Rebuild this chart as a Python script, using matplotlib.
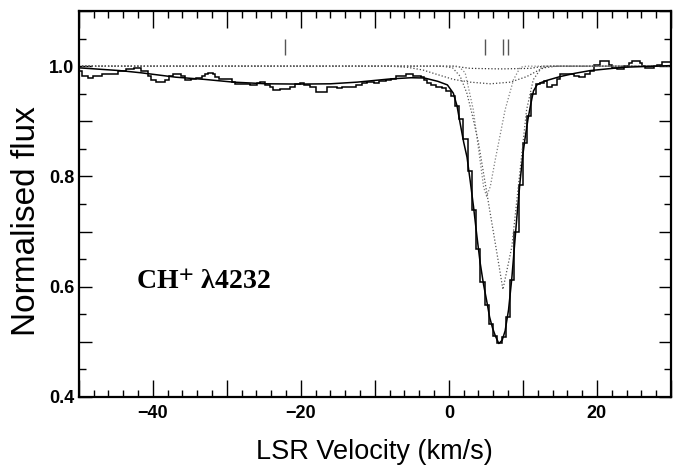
import matplotlib

matplotlib.use("Agg")
import matplotlib.pyplot as plt
from matplotlib.ticker import FuncFormatter, MultipleLocator

# observed spectrum: left edge of each step (km/s) and its normalised flux
step_left = [
    -50.0, -49.5, -48.8, -48.1, -46.8, -44.7, -43.6, -42.5, -41.6, -40.7,
    -40.2, -39.6, -38.4, -37.8, -37.3, -36.2, -35.7, -34.8, -34.1, -33.3,
    -32.9, -32.5, -31.8, -31.6, -31.1, -29.3, -28.9, -26.9, -25.9, -25.5,
    -24.8, -24.1, -23.7, -22.8, -21.4, -20.8, -20.1, -19.6, -18.7, -18.0,
    -17.4, -16.4, -15.05, -14.4, -13.5, -12.6, -11.7, -11.0, -10.1, -9.4,
    -8.5, -7.8, -7.2, -6.7, -5.8, -4.9, -3.8, -3.3, -2.9, -2.4,
    -1.8, -0.9, -0.35, 0.22, 0.80, 1.37, 1.95, 2.52, 3.10, 3.67,
    4.25, 4.82, 5.40, 5.97, 6.55, 7.12, 7.70, 8.27, 8.85, 9.42,
    10.0, 10.57, 11.15, 11.72, 12.3, 12.8, 13.24, 13.92, 14.59, 15.04,
    15.72, 16.84, 17.51, 18.42, 19.09, 19.54, 20.45, 21.57, 22.03, 22.70,
    23.60, 24.27, 24.73, 25.85, 26.08, 26.53, 27.65, 28.11, 28.78,
]
step_flux = [
    0.991, 0.982, 0.979, 0.982, 0.986, 0.991, 0.995, 0.997, 0.991, 0.983,
    0.974, 0.972, 0.975, 0.982, 0.986, 0.982, 0.974, 0.976, 0.978, 0.982,
    0.986, 0.988, 0.985, 0.980, 0.976, 0.971, 0.968, 0.966, 0.970, 0.971,
    0.966, 0.962, 0.957, 0.959, 0.962, 0.968, 0.970, 0.965, 0.962, 0.954,
    0.953, 0.963, 0.960, 0.962, 0.963, 0.966, 0.970, 0.971, 0.970, 0.973,
    0.974, 0.977, 0.982, 0.983, 0.985, 0.983, 0.980, 0.974, 0.970, 0.966,
    0.962, 0.960, 0.955, 0.945, 0.928, 0.905, 0.867, 0.809, 0.740, 0.668,
    0.609, 0.566, 0.533, 0.510, 0.498, 0.508, 0.545, 0.612, 0.700, 0.785,
    0.861, 0.910, 0.950, 0.968, 0.970, 0.973, 0.963, 0.966, 0.976, 0.985,
    0.986, 0.983, 0.980, 0.985, 0.991, 1.003, 1.009, 1.003, 0.997, 0.994,
    1.001, 1.006, 1.010, 1.005, 1.001, 0.997, 1.000, 1.003, 1.007,
]
step_end = 30.0

# total fit (solid)
fit_vel = [
    -50, -44.5, -41.6, -36.9, -33.0, -29.1, -24.6, -20.1, -16.0, -12.4,
    -7.8, -5.1, -3.3, -1.5, -0.2, 0.6, 1.1, 1.5, 2.0, 2.45,
    2.9, 3.33, 3.8, 4.23, 4.67, 5.1, 5.5, 5.9, 6.3, 6.75,
    7.2, 7.6, 8.06, 8.5, 8.9, 9.27, 9.64, 10.0, 10.3, 10.7,
    11.0, 11.43, 11.9, 12.4, 13.2, 15.0, 17.0, 19.1, 23.6, 30.0,
]
fit_flux = [
    0.997, 0.992, 0.988, 0.980, 0.976, 0.971, 0.968, 0.9675, 0.968, 0.971,
    0.977, 0.979, 0.9785, 0.9725, 0.966, 0.951, 0.928, 0.898, 0.862, 0.835,
    0.790, 0.745, 0.690, 0.643, 0.605, 0.575, 0.545, 0.525, 0.510, 0.497,
    0.503, 0.520, 0.558, 0.615, 0.680, 0.740, 0.794, 0.840, 0.870, 0.905,
    0.927, 0.955, 0.966, 0.970, 0.974, 0.981, 0.987, 0.992, 0.998, 1.001,
]

# individual components (dotted)
weak_vel = [-50, 0.6, 2.9, 7.0, 11.0, 12.8, 30]
weak_flux = [1.0, 1.0, 0.996, 0.995, 0.996, 1.0, 1.0]
broad_vel = [-50, -8.0, -5.6, -3.5, -1.6, 0.6, 2.9, 5.6, 8.3, 10.5, 11.9, 12.8, 14.6, 30]
broad_flux = [1.0, 1.0, 0.998, 0.993, 0.985, 0.976, 0.971, 0.968, 0.971, 0.981, 0.991, 0.997, 1.0, 1.0]
compa_vel = [-50, 1.3, 2.2, 3.3, 4.2, 4.7, 5.1, 5.6, 6.26, 7.6, 8.73, 9.64, 10.5, 30]
compa_flux = [1.0, 1.0, 0.988, 0.921, 0.830, 0.780, 0.764, 0.782, 0.830, 0.921, 0.9755, 0.998, 1.0, 1.0]
compb_vel = [-50, -1.0, 0.5, 1.53, 2.43, 3.1, 4.0, 5.35, 6.49, 7.3, 8.51, 9.19, 9.86, 10.5, 11.4, 12.5, 13.5, 30]
compb_flux = [1.0, 1.0, 0.997, 0.9815, 0.951, 0.915, 0.861, 0.752, 0.661, 0.595, 0.673, 0.758, 0.842, 0.921, 0.9755, 0.997, 1.0, 1.0]

# component velocities marked along the top
comp_marks = [-22.1, 4.9, 7.3, 8.0]

assert len(step_left) == len(step_flux)

plt.rcParams["font.family"] = ["Liberation Sans", "DejaVu Sans"]
plt.rcParams["mathtext.fontset"] = "stix"

fig = plt.figure(figsize=(6.74, 4.73), dpi=100)
ax = fig.add_axes([0.1168, 0.1607, 0.8787, 0.816])

dot = (0, (1, 1.6))
ax.plot(weak_vel, weak_flux, color="#333333", lw=0.9, ls=dot)
ax.plot(broad_vel, broad_flux, color="#444444", lw=0.9, ls=dot)
ax.plot(compa_vel, compa_flux, color="#808080", lw=0.9, ls=dot)
ax.plot(compb_vel, compb_flux, color="#555555", lw=0.9, ls=dot)

ax.stairs(step_flux, step_left + [step_end], color="black", lw=1.1, baseline=None)
ax.plot(fit_vel, fit_flux, color="black", lw=1.1)

ax.vlines(comp_marks, 1.021, 1.049, color="#555555", lw=1.0)

ax.text(-42.2, 0.607, r"CH$^{\mathbf{+}}$ λ4232", family="Liberation Serif",
        weight="bold", fontsize=20, va="center", ha="left")

ax.set_xlim(-50, 30)
ax.set_ylim(0.4, 1.1)

ax.xaxis.set_major_locator(MultipleLocator(10))
ax.xaxis.set_minor_locator(MultipleLocator(2))
ax.yaxis.set_major_locator(MultipleLocator(0.1))
ax.yaxis.set_minor_locator(MultipleLocator(0.05))
ax.xaxis.set_major_formatter(
    FuncFormatter(lambda v, _: f"{v:.0f}".replace("-", "\u2212") if round(v) % 20 == 0 else "")
)
ax.yaxis.set_major_formatter(
    FuncFormatter(lambda v, _: f"{v:.1f}" if round(v * 10) % 2 == 0 else "")
)
ax.tick_params(which="both", direction="in", top=True, right=True, width=1.0)
ax.tick_params(axis="x", which="major", length=12, pad=6)
ax.tick_params(axis="x", which="minor", length=5)
ax.tick_params(axis="y", which="major", length=9, pad=3)
ax.tick_params(axis="y", which="minor", length=5)
for lab in ax.get_xticklabels() + ax.get_yticklabels():
    lab.set_fontweight("bold")
    lab.set_fontsize(13)
for sp in ax.spines.values():
    sp.set_linewidth(1.6)

ax.set_xlabel("LSR Velocity (km/s)", fontsize=19.5, labelpad=12)
ax.set_ylabel("Normalised flux", fontsize=24)
ax.yaxis.set_label_coords(-0.062, 0.455)

fig.savefig("out.png", dpi=100)
